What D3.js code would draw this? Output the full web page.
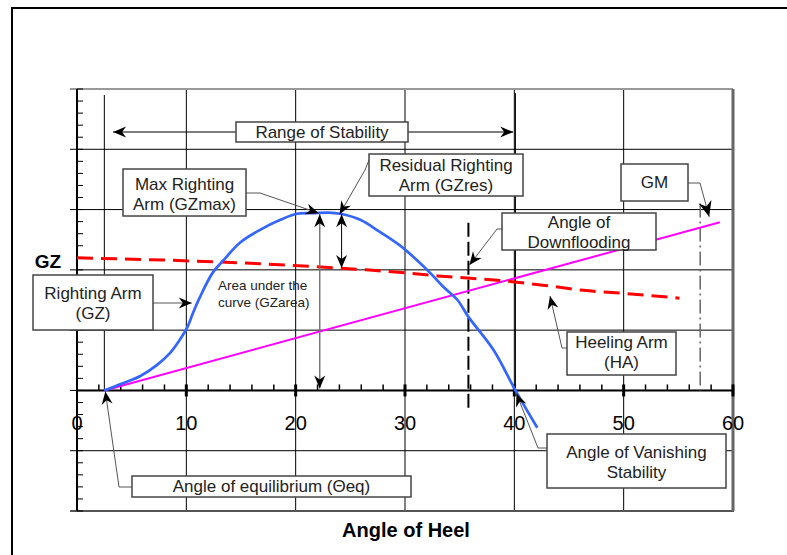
<!DOCTYPE html>
<html lang="en">
<head>
<meta charset="UTF-8">
<title>Stability curve</title>
<style>
    body, html { margin: 0; padding: 0; background: #fff; overflow: hidden; }
    svg { display: block; font-family: "Liberation Sans", Arial, sans-serif; }
    .lbl { font-size: 17px; fill: #222; text-anchor: middle; }
    .box { fill: #fff; stroke: #444; stroke-width: 1.5; }
    .leader { fill: none; stroke: #555; stroke-width: 1; }
    .grid { stroke: #000; stroke-width: 1; }
</style>
</head>
<body>
<svg width="787" height="555"></svg>
<script src="https://d3js.org/d3.v7.min.js"></script>
<script>
    // righting arm curve (GZ)
    const gzDeg = [2.5, 4.2, 5.8, 7.3, 8.5, 9.4, 10.1, 10.6, 11.2, 12.4, 13.4, 14.9, 16.7, 18.6, 20.1, 21.6, 23.0, 24.1, 25.9, 27.7, 29.5, 31.1, 32.3, 33.5, 34.8, 35.8, 38.1, 40.1, 42.1];
    const gzVal = [0, 0.12, 0.24, 0.42, 0.62, 0.84, 1.05, 1.28, 1.53, 1.95, 2.16, 2.45, 2.66, 2.83, 2.93, 2.94, 2.95, 2.93, 2.83, 2.63, 2.41, 2.16, 1.95, 1.72, 1.50, 1.22, 0.67, 0, -0.62];
    // heeling arm (HA)
    const haDeg = [0, 13, 24, 26.5, 30, 33, 36, 40, 43.3, 46.3, 50, 55.1];
    const haVal = [2.2, 2.13, 2.03, 2.0, 1.95, 1.9, 1.86, 1.8, 1.73, 1.66, 1.61, 1.53];
    // GM line
    const gmDeg = [2.5, 58.8];
    const gmVal = [0, 2.79];
    // key angles
    const thetaEq = 2.5, thetaMax = 22.2, thetaRes = 24.2, thetaFlood = 35.8, thetaVanish = 40.1, thetaGM = 57;
    const gzMax = 2.94, haAtRes = 2.03;
    const xTicks = [0, 10, 20, 30, 40, 50, 60];

    const svg = d3.select("svg");
    const x = d3.scaleLinear().domain([0, 60]).range([77, 733]);
    const y = d3.scaleLinear().domain([-2, 5]).range([511, 89]);

    // outer frame
    svg.append("rect").attr("x", 12).attr("y", 8).attr("width", 800).attr("height", 600)
        .attr("fill", "none").attr("stroke", "#000").attr("stroke-width", 2);

    // arrow heads
    const defs = svg.append("defs");
    function marker(id, size) {
        defs.append("marker").attr("id", id)
            .attr("viewBox", "-14 -7 16 14").attr("refX", 0).attr("refY", 0)
            .attr("markerWidth", 16 * size).attr("markerHeight", 14 * size)
            .attr("markerUnits", "userSpaceOnUse").attr("orient", "auto-start-reverse")
            .append("path").attr("d", "M0,0 L-13,-5.5 L-9,0 L-13,5.5 Z").attr("fill", "#000");
    }
    marker("arr", 1);
    marker("arrBig", 1.2);

    // grid
    svg.append("g").selectAll("line").data(d3.range(10, 60, 10)).enter().append("line")
        .attr("class", "grid").attr("x1", d => x(d)).attr("x2", d => x(d))
        .attr("y1", y(5)).attr("y2", y(-2));
    svg.append("g").selectAll("line").data(d3.range(-1, 5)).enter().append("line")
        .attr("class", "grid").attr("x1", x(0) - 7).attr("x2", x(60))
        .attr("y1", d => y(d)).attr("y2", d => y(d));

    // plot borders
    svg.append("line").attr("x1", x(0) - 7).attr("x2", x(60)).attr("y1", y(5)).attr("y2", y(5))
        .attr("stroke", "#999").attr("stroke-width", 2);
    svg.append("line").attr("x1", x(0) - 7).attr("x2", x(60) + 1).attr("y1", y(-2)).attr("y2", y(-2))
        .attr("stroke", "#555").attr("stroke-width", 2);
    svg.append("line").attr("x1", x(60)).attr("x2", x(60)).attr("y1", y(5)).attr("y2", y(-2))
        .attr("stroke", "#666").attr("stroke-width", 3);

    // y axis with minor ticks
    svg.append("line").attr("x1", x(0)).attr("x2", x(0)).attr("y1", y(5)).attr("y2", y(-2))
        .attr("stroke", "#000").attr("stroke-width", 2);
    svg.append("g").selectAll("line").data(d3.range(-2, 5.01, 0.2)).enter().append("line")
        .attr("x1", x(0)).attr("x2", x(0) + 6)
        .attr("y1", d => y(d)).attr("y2", d => y(d)).attr("stroke", "#000");

    // x axis
    svg.append("line").attr("x1", x(0)).attr("x2", x(60)).attr("y1", y(0)).attr("y2", y(0))
        .attr("stroke", "#000").attr("stroke-width", 2);
    svg.append("g").selectAll("line").data(d3.range(2, 60, 2).filter(d => d % 10)).enter().append("line")
        .attr("x1", d => x(d)).attr("x2", d => x(d)).attr("y1", y(0)).attr("y2", y(0) - 6)
        .attr("stroke", "#000").attr("stroke-width", 1.5);
    svg.append("g").selectAll("line").data(xTicks.slice(1)).enter().append("line")
        .attr("x1", d => x(d)).attr("x2", d => x(d)).attr("y1", y(0) - 6).attr("y2", y(0) + 6)
        .attr("stroke", "#000").attr("stroke-width", 3);
    svg.append("g").selectAll("text").data(xTicks).enter().append("text")
        .attr("x", d => x(d)).attr("y", y(0) + 40).attr("text-anchor", "middle")
        .attr("font-size", 20).attr("fill", "#000").text(d => d);

    // range of stability bounds
    svg.append("line").attr("x1", x(thetaEq)).attr("x2", x(thetaEq)).attr("y1", y(4.9)).attr("y2", y(0))
        .attr("stroke", "#000");
    svg.append("line").attr("x1", x(thetaVanish)).attr("x2", x(thetaVanish)).attr("y1", y(4.93)).attr("y2", y(0))
        .attr("stroke", "#000");

    // downflooding and GM verticals
    svg.append("line").attr("x1", x(thetaFlood)).attr("x2", x(thetaFlood)).attr("y1", y(2.78)).attr("y2", y(-0.32))
        .attr("stroke", "#000").attr("stroke-width", 2).attr("stroke-dasharray", "14,5");
    svg.append("line").attr("x1", x(thetaGM)).attr("x2", x(thetaGM)).attr("y1", y(3.1)).attr("y2", y(0))
        .attr("stroke", "#666").attr("stroke-width", 1.5).attr("stroke-dasharray", "14,4,2,4");

    // curves
    const pts = (a, b) => a.map((d, i) => [d, b[i]]);
    const line = d3.line().x(d => x(d[0])).y(d => y(d[1]));
    svg.append("path").datum(pts(gmDeg, gmVal)).attr("d", line)
        .attr("fill", "none").attr("stroke", "#ff00ff").attr("stroke-width", 2);
    svg.append("path").datum(pts(haDeg, haVal)).attr("d", line.curve(d3.curveMonotoneX))
        .attr("fill", "none").attr("stroke", "#ff0000").attr("stroke-width", 3).attr("stroke-dasharray", "16,8");
    svg.append("path").datum(pts(gzDeg, gzVal)).attr("d", line.curve(d3.curveCatmullRom))
        .attr("fill", "none").attr("stroke", "#3366ff").attr("stroke-width", 2.7);

    // GZ and GZres arrows
    svg.append("line").attr("x1", x(thetaMax)).attr("x2", x(thetaMax)).attr("y1", y(gzMax) + 1).attr("y2", y(0) - 2)
        .attr("stroke", "#777").attr("stroke-width", 1.5)
        .attr("marker-start", "url(#arr)").attr("marker-end", "url(#arr)");
    svg.append("line").attr("x1", x(thetaRes)).attr("x2", x(thetaRes)).attr("y1", y(gzMax) + 1).attr("y2", y(haAtRes))
        .attr("stroke", "#000").attr("stroke-width", 1)
        .attr("marker-start", "url(#arr)").attr("marker-end", "url(#arr)");

    // range of stability arrows
    svg.append("line").attr("x1", 236).attr("x2", x(3.3)).attr("y1", 132).attr("y2", 132)
        .attr("stroke", "#000").attr("marker-end", "url(#arr)");
    svg.append("line").attr("x1", 408).attr("x2", x(39.9)).attr("y1", 132).attr("y2", 132)
        .attr("stroke", "#000").attr("marker-end", "url(#arr)");

    // leaders
    const leaders = [
        { d: [[246, 193], [260, 193], [x(thetaMax) - 1, y(gzMax)]] },
        { d: [[369, 160], [365, 170], [x(thetaRes) - 2, y(gzMax) + 1]] },
        { d: [[502, 229], [497, 229], [x(thetaFlood) + 1, 265]] },
        { d: [[688, 183], [700, 183], [x(thetaGM) + 9, y(2.88)]], big: true },
        { d: [[153, 303], [x(10.5), 303]] },
        { d: [[567, 348], [562, 348], [550, 296]] },
        { d: [[132, 487], [119, 487], [x(thetaEq) + 1, y(0) + 1]] },
        { d: [[547, 448], [538, 448], [x(thetaVanish) + 1, y(0) + 3]] }
    ];
    svg.append("g").selectAll("path").data(leaders).enter().append("path")
        .attr("class", "leader").attr("d", d => d3.line()(d.d))
        .attr("marker-end", d => d.big ? "url(#arrBig)" : "url(#arr)");

    // boxes with labels
    const boxes = [
        { x: 236, y: 122, w: 172, h: 20, lines: ["Range of Stability"], by: 138 },
        { x: 123, y: 169, w: 123, h: 47, lines: ["Max Righting", "Arm (GZmax)"], by: 190 },
        { x: 369, y: 154, w: 154, h: 42, lines: ["Residual Righting", "Arm (GZres)"], by: 171 },
        { x: 621, y: 164, w: 67, h: 37, lines: ["GM"], by: 188 },
        { x: 502, y: 213, w: 154, h: 37, lines: ["Angle of", "Downflooding"], by: 228 },
        { x: 33, y: 275, w: 120, h: 55, lines: ["Righting Arm", "(GZ)"], by: 299 },
        { x: 567, y: 332, w: 109, h: 43, lines: ["Heeling Arm", "(HA)"], by: 348 },
        { x: 132, y: 476, w: 279, h: 21, lines: ["Angle of equilibrium (Θeq)"], by: 492 },
        { x: 547, y: 434, w: 179, h: 54, lines: ["Angle of Vanishing", "Stability"], by: 458 }
    ];
    const bg = svg.append("g").selectAll("g").data(boxes).enter().append("g");
    bg.append("rect").attr("class", "box")
        .attr("x", d => d.x).attr("y", d => d.y).attr("width", d => d.w).attr("height", d => d.h);
    bg.each(function (d) {
        d3.select(this).selectAll("text").data(d.lines).enter().append("text")
            .attr("class", "lbl").attr("x", d.x + d.w / 2).attr("y", (t, i) => d.by + i * 20).text(t => t);
    });

    // area text
    svg.append("text").attr("x", 218).attr("y", 290).attr("font-size", 13.5).attr("fill", "#222")
        .text("Area under the");
    svg.append("text").attr("x", 218).attr("y", 307).attr("font-size", 13.5).attr("fill", "#222")
        .text("curve (GZarea)");

    // axis titles
    svg.append("text").attr("x", 48).attr("y", 268).attr("text-anchor", "middle")
        .attr("font-size", 19).attr("font-weight", "bold").text("GZ");
    svg.append("text").attr("x", 406).attr("y", 537).attr("text-anchor", "middle")
        .attr("font-size", 20).attr("font-weight", "bold").text("Angle of Heel");
</script>
</body>
</html>
